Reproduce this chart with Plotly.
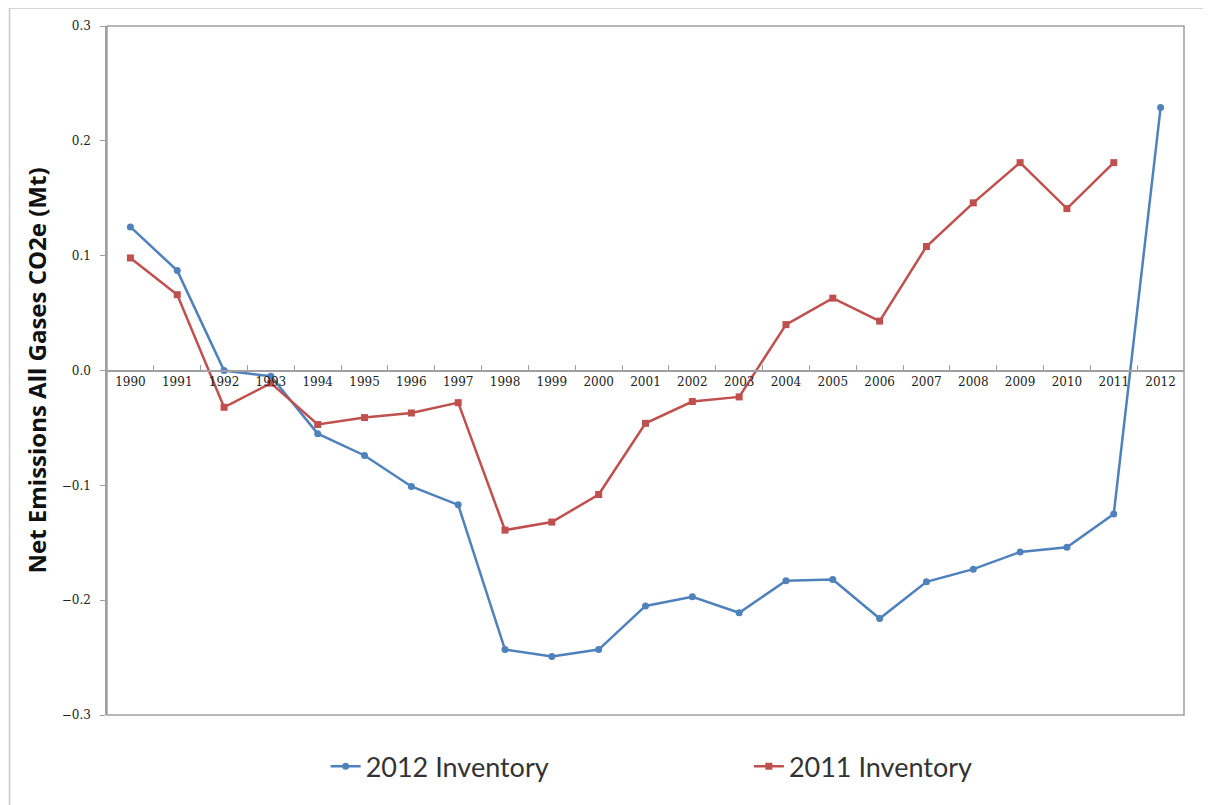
import plotly.graph_objects as go

years = [str(y) for y in range(1990, 2013)]

inv_2012 = [0.125, 0.087, 0.0, -0.005, -0.055, -0.074, -0.101, -0.117, -0.243, -0.249,
            -0.243, -0.205, -0.197, -0.211, -0.183, -0.182, -0.216, -0.184, -0.173,
            -0.158, -0.154, -0.125, 0.229]
inv_2011 = [0.098, 0.066, -0.032, -0.011, -0.047, -0.041, -0.037, -0.028, -0.139, -0.132,
            -0.108, -0.046, -0.027, -0.023, 0.040, 0.063, 0.043, 0.108, 0.146,
            0.181, 0.141, 0.181, None]

y_ticks = [0.3, 0.2, 0.1, 0.0, -0.1, -0.2, -0.3]

fig = go.Figure()
fig.add_trace(go.Scatter(x=years, y=inv_2012, mode='lines+markers', name='2012 Inventory',
                         line=dict(color='#4F81BD', width=2.5),
                         marker=dict(symbol='circle', size=7, color='#4F81BD'),
                         legend='legend'))
fig.add_trace(go.Scatter(x=years, y=inv_2011, mode='lines+markers', name='2011 Inventory',
                         line=dict(color='#C0504D', width=2.5),
                         marker=dict(symbol='square', size=7, color='#C0504D'),
                         legend='legend2'))

# plot area box and outer chart border
fig.add_shape(type='rect', xref='paper', yref='paper', x0=0, x1=1, y0=0, y1=1,
              line=dict(color='#A0A0A0', width=1.5), layer='below')
fig.add_shape(type='rect', xref='paper', yref='paper', x0=-0.0905, x1=1.1, y0=-0.2, y1=1.026,
              line=dict(color='#C8C8C8', width=1.5), layer='below')

leg_font = dict(family='Lato', size=27, color='#333333')

fig.update_layout(
    width=1211, height=805,
    margin=dict(l=99, r=35, t=18, b=98),
    plot_bgcolor='white', paper_bgcolor='white',
    showlegend=True,
    legend=dict(x=0.203, y=-0.075, xanchor='left', yanchor='middle',
                font=leg_font, itemwidth=30, bgcolor='rgba(0,0,0,0)'),
    legend2=dict(x=0.596, y=-0.075, xanchor='left', yanchor='middle',
                 font=leg_font, itemwidth=30, bgcolor='rgba(0,0,0,0)'),
    xaxis=dict(type='category', anchor='free', position=0.5,
               showline=True, linecolor='#A0A0A0', linewidth=1.5,
               ticks='inside', ticklen=5, tickcolor='#A0A0A0', tickson='boundaries',
               showgrid=False, range=[-0.5, 22.5],
               tickfont=dict(family='DejaVu Serif', size=12, color='#222222')),
    yaxis=dict(range=[-0.3, 0.3], tickvals=y_ticks, tickformat='.1f',
               showgrid=False, zeroline=False, showline=True, linecolor='#A0A0A0',
               linewidth=1.5, ticks='outside', ticklen=5, tickcolor='#A0A0A0',
               ticklabelstandoff=7,
               tickfont=dict(family='DejaVu Serif', size=12, color='#222222'),
               title=dict(text='Net Emissions All Gases CO2e (Mt)', standoff=8,
                          font=dict(family='Open Sans', size=24, color='#111111', weight='bold'))),
)

fig.write_html('out.html')
